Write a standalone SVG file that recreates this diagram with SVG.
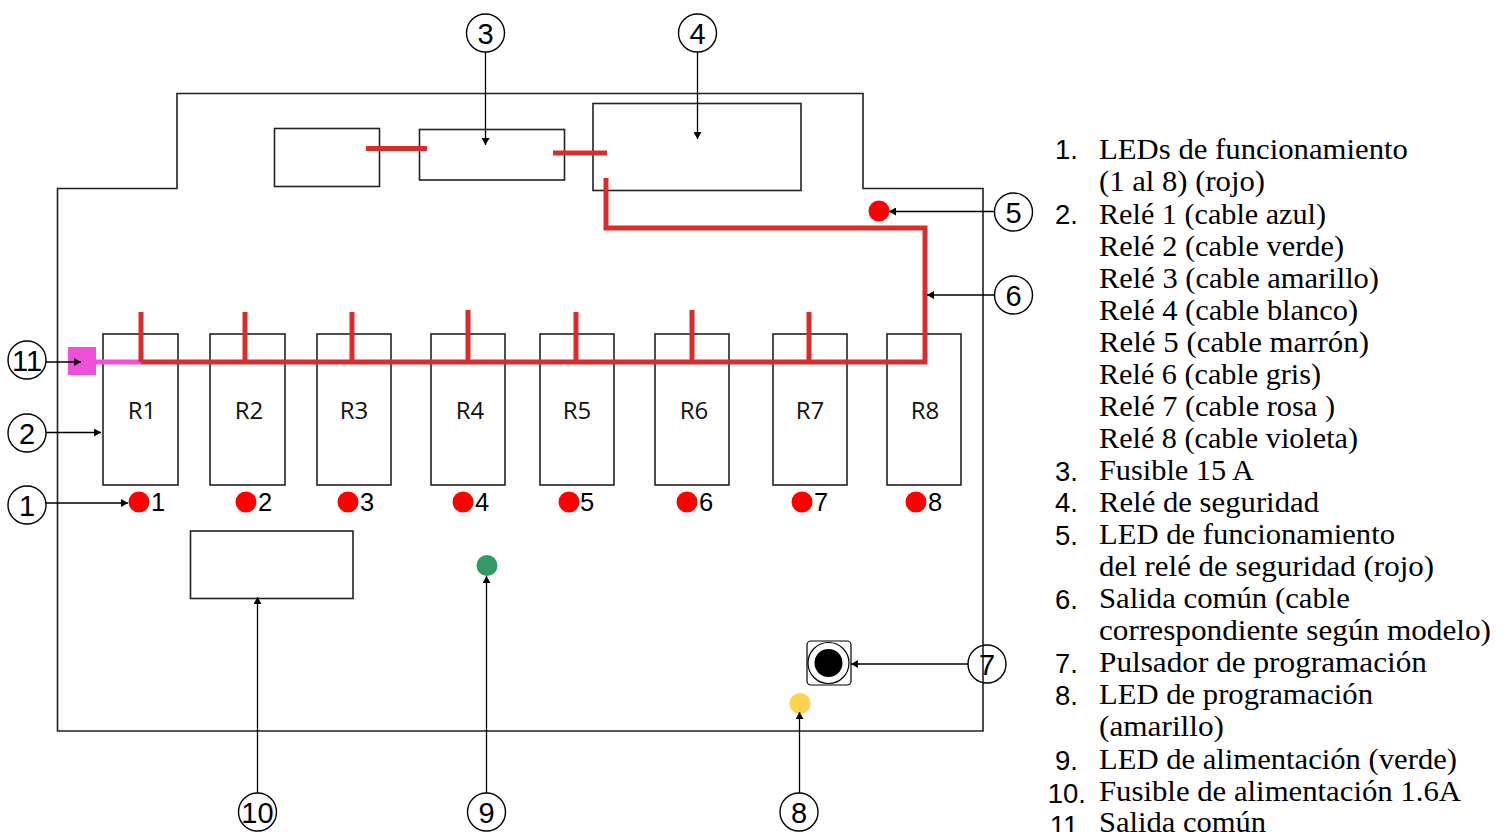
<svg xmlns="http://www.w3.org/2000/svg" width="1507" height="832" viewBox="0 0 1507 832">
<defs>
<marker id="ah" markerUnits="userSpaceOnUse" markerWidth="8" markerHeight="8" refX="7" refY="4" orient="auto"><path d="M0 0L7 4L0 8Z" fill="#000"/></marker>
</defs>
<style>
.box{fill:none;stroke:#222;stroke-width:1.6}
.wire{fill:none;stroke:#d62d2d;stroke-width:5}
.arr{fill:none;stroke:#000;stroke-width:1.3;marker-end:url(#ah)}
.tag{fill:none;stroke:#000;stroke-width:1.4}
.num{font:29px "Liberation Sans",Arial,sans-serif;text-anchor:middle;fill:#000}
.rl{font:24px "Open Sans","Liberation Sans",sans-serif;text-anchor:middle;fill:#111}
.ln{font:25.500px "Liberation Sans",Arial,sans-serif;fill:#000}
.ll{font:27.500px "Liberation Sans",Arial,sans-serif;fill:#000;text-anchor:end}
.tx{font:28.500px "Liberation Serif","Times New Roman",serif;fill:#000}
.led{fill:#f00}
</style>
<g id="board"><path class="box" d="M177 93.500H863V188.500H983V731H57.500V188.500H177Z"/></g>
<g id="parts">
<rect class="box" x="274.500" y="128.500" width="105" height="58"/>
<rect class="box" x="419.500" y="129.500" width="145" height="50.500"/>
<rect class="box" x="593" y="103.500" width="208" height="87"/>
<rect class="box" x="190.500" y="531" width="162.500" height="67.500"/>
</g>
<g id="relays">
<g id="r1"><rect class="box" x="103" y="334" width="75" height="151"/><text class="rl" x="142" y="419">R1</text></g>
<g id="r2"><rect class="box" x="210" y="334" width="75" height="151"/><text class="rl" x="249" y="419">R2</text></g>
<g id="r3"><rect class="box" x="317" y="334" width="74" height="151"/><text class="rl" x="354" y="419">R3</text></g>
<g id="r4"><rect class="box" x="431" y="334" width="74" height="151"/><text class="rl" x="470" y="419">R4</text></g>
<g id="r5"><rect class="box" x="540" y="334" width="74" height="151"/><text class="rl" x="577" y="419">R5</text></g>
<g id="r6"><rect class="box" x="655" y="334" width="74" height="151"/><text class="rl" x="694" y="419">R6</text></g>
<g id="r7"><rect class="box" x="773" y="334" width="74" height="151"/><text class="rl" x="810" y="419">R7</text></g>
<g id="r8"><rect class="box" x="887" y="334" width="74" height="151"/><text class="rl" x="925" y="419">R8</text></g>
</g>
<g id="wires">
<path d="M96 362H141" fill="none" stroke="#f050d8" stroke-width="5"/>
<path class="wire" d="M141 362H925V228H606V178M141 362V312M245 362V312M352 362V312M468 362V310M576 362V312M692 362V310M809 362V312M366 148.500H427M553 153H607"/>
</g>
<g id="common"><rect x="68" y="347" width="28" height="28" fill="#f050d8"/></g>
<g id="leds">
<circle class="led" cx="139" cy="502" r="10.500"/><text class="ln" x="151" y="511">1</text>
<circle class="led" cx="246" cy="502" r="10.500"/><text class="ln" x="258" y="511">2</text>
<circle class="led" cx="348" cy="502" r="10.500"/><text class="ln" x="360" y="511">3</text>
<circle class="led" cx="463" cy="502" r="10.500"/><text class="ln" x="475" y="511">4</text>
<circle class="led" cx="569" cy="502" r="10.500"/><text class="ln" x="580" y="511">5</text>
<circle class="led" cx="687" cy="502" r="10.500"/><text class="ln" x="699" y="511">6</text>
<circle class="led" cx="802" cy="502" r="10.500"/><text class="ln" x="814" y="511">7</text>
<circle class="led" cx="916" cy="502" r="10.500"/><text class="ln" x="928" y="511">8</text>
<circle class="led" cx="879" cy="211" r="10.500"/>
<circle cx="487" cy="565.500" r="10.500" fill="#339966"/>
<circle cx="800" cy="703.500" r="10.500" fill="#ffd24f"/>
</g>
<g id="button">
<rect x="807" y="641" width="44" height="44" rx="4" fill="none" stroke="#000" stroke-width="1.200"/>
<circle cx="828.500" cy="663" r="20.500" fill="none" stroke="#000" stroke-width="1.200"/>
<circle cx="828.500" cy="663" r="14" fill="#000"/>
</g>
<g id="connectors">
<path class="arr" d="M485.500 52V145"/>
<path class="arr" d="M697.500 52V139"/>
<path class="arr" d="M994 211.500H889"/>
<path class="arr" d="M994 295H927"/>
<path class="arr" d="M968 664H851"/>
<path class="arr" d="M799.500 793V712"/>
<path class="arr" d="M486.500 793V576"/>
<path class="arr" d="M257.500 793V597"/>
<path class="arr" d="M46 362H81"/>
<path class="arr" d="M46 432.500H101"/>
<path class="arr" d="M46 503H128"/>
</g>
<g id="tag3"><circle class="tag" cx="485.500" cy="33" r="19"/><text class="num" x="485.500" y="44">3</text></g>
<g id="tag4"><circle class="tag" cx="697.500" cy="33" r="19"/><text class="num" x="697.500" y="44">4</text></g>
<g id="tag5"><circle class="tag" cx="1013.500" cy="212" r="19"/><text class="num" x="1013.500" y="223">5</text></g>
<g id="tag6"><circle class="tag" cx="1013.500" cy="295" r="19"/><text class="num" x="1013.500" y="306">6</text></g>
<g id="tag7"><circle class="tag" cx="987" cy="664" r="19"/><text class="num" x="987" y="675">7</text></g>
<g id="tag8"><circle class="tag" cx="799" cy="812" r="19"/><text class="num" x="799" y="823">8</text></g>
<g id="tag9"><circle class="tag" cx="486.500" cy="812" r="19"/><text class="num" x="486.500" y="823">9</text></g>
<g id="tag10"><circle class="tag" cx="257.500" cy="812" r="19"/><text class="num" x="257.500" y="823">10</text></g>
<g id="tag11"><circle class="tag" cx="27" cy="360" r="19"/><text class="num" x="27" y="371">11</text></g>
<g id="tag2"><circle class="tag" cx="27" cy="433" r="19"/><text class="num" x="27" y="444">2</text></g>
<g id="tag1"><circle class="tag" cx="27" cy="505" r="19"/><text class="num" x="27" y="516">1</text></g>
<g id="legend">
<text class="ll" x="1078" y="159">1.</text>
<text class="ll" x="1078" y="224">2.</text>
<text class="ll" x="1078" y="481">3.</text>
<text class="ll" x="1078" y="512">4.</text>
<text class="ll" x="1078" y="545">5.</text>
<text class="ll" x="1078" y="609">6.</text>
<text class="ll" x="1078" y="673">7.</text>
<text class="ll" x="1078" y="705">8.</text>
<text class="ll" x="1078" y="770">9.</text>
<text class="ll" x="1086" y="803">10.</text>
<text class="ll" x="1086" y="835">11.</text>
<text class="tx" x="1099" y="159" textLength="309" lengthAdjust="spacingAndGlyphs">LEDs de funcionamiento</text>
<text class="tx" x="1099" y="191" textLength="166" lengthAdjust="spacingAndGlyphs">(1 al 8) (rojo)</text>
<text class="tx" x="1099" y="224" textLength="227" lengthAdjust="spacingAndGlyphs">Relé 1 (cable azul)</text>
<text class="tx" x="1099" y="256" textLength="245" lengthAdjust="spacingAndGlyphs">Relé 2 (cable verde)</text>
<text class="tx" x="1099" y="288" textLength="280" lengthAdjust="spacingAndGlyphs">Relé 3 (cable amarillo)</text>
<text class="tx" x="1099" y="320" textLength="259" lengthAdjust="spacingAndGlyphs">Relé 4 (cable blanco)</text>
<text class="tx" x="1099" y="352" textLength="270" lengthAdjust="spacingAndGlyphs">Relé 5 (cable marrón)</text>
<text class="tx" x="1099" y="384" textLength="222" lengthAdjust="spacingAndGlyphs">Relé 6 (cable gris)</text>
<text class="tx" x="1099" y="416" textLength="236" lengthAdjust="spacingAndGlyphs">Relé 7 (cable rosa )</text>
<text class="tx" x="1099" y="448" textLength="259" lengthAdjust="spacingAndGlyphs">Relé 8 (cable violeta)</text>
<text class="tx" x="1099" y="480" textLength="155" lengthAdjust="spacingAndGlyphs">Fusible 15 A</text>
<text class="tx" x="1099" y="512" textLength="220" lengthAdjust="spacingAndGlyphs">Relé de seguridad</text>
<text class="tx" x="1099" y="544" textLength="296" lengthAdjust="spacingAndGlyphs">LED de funcionamiento</text>
<text class="tx" x="1099" y="576" textLength="335" lengthAdjust="spacingAndGlyphs">del relé de seguridad (rojo)</text>
<text class="tx" x="1099" y="608" textLength="251" lengthAdjust="spacingAndGlyphs">Salida común (cable</text>
<text class="tx" x="1099" y="640" textLength="392" lengthAdjust="spacingAndGlyphs">correspondiente según modelo)</text>
<text class="tx" x="1099" y="672" textLength="328" lengthAdjust="spacingAndGlyphs">Pulsador de programación</text>
<text class="tx" x="1099" y="704" textLength="274" lengthAdjust="spacingAndGlyphs">LED de programación</text>
<text class="tx" x="1099" y="736" textLength="125" lengthAdjust="spacingAndGlyphs">(amarillo)</text>
<text class="tx" x="1099" y="769" textLength="358" lengthAdjust="spacingAndGlyphs">LED de alimentación (verde)</text>
<text class="tx" x="1099" y="801" textLength="362" lengthAdjust="spacingAndGlyphs">Fusible de alimentación 1.6A</text>
<text class="tx" x="1099" y="832" textLength="167" lengthAdjust="spacingAndGlyphs">Salida común</text>
</g>
</svg>
